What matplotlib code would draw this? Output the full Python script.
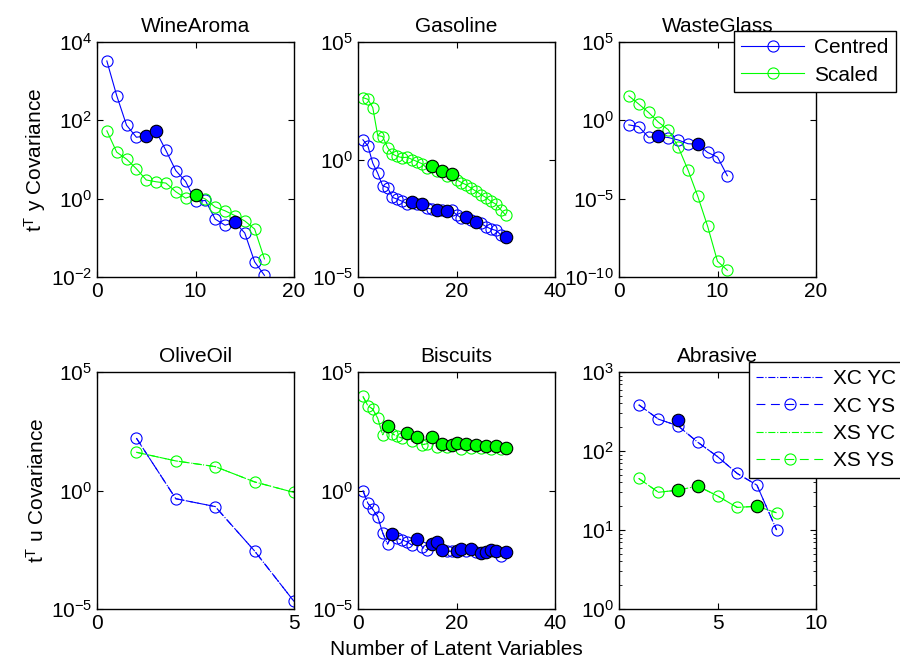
import numpy as np
import matplotlib
matplotlib.use('Agg')
import matplotlib.pyplot as plt
from matplotlib.ticker import LogLocator, NullLocator

plt.rcParams['font.family'] = ['Liberation Sans', 'DejaVu Sans']
plt.rcParams['mathtext.fontset'] = 'custom'
plt.rcParams['mathtext.rm'] = 'Liberation Sans'
plt.rcParams['font.size'] = 15

# ---- data ----
# WineAroma
wine_c = [3280, 429, 75, 37, 40, 52, 17, 5.2, 2.75, 0.85, 0.9, 0.30, 0.21, 0.25, 0.133, 0.0245, 0.011]
wine_s = [54, 15.4, 10.2, 5.8, 3.0, 2.7, 2.5, 1.5, 1.03, 1.26, 0.98, 0.61, 0.49, 0.37, 0.27, 0.168, 0.029]
wine_fill_c = [5, 6, 14]
wine_fill_s = [10]

# Gasoline
gas_c = [6.9, 3.8, 0.70, 0.26, 0.076, 0.064, 0.0244, 0.0205, 0.0165, 0.0132,
         0.0155, 0.0123, 0.0132, 0.0085, 0.0078, 0.0073, 0.0068, 0.0063, 0.0068, 0.0045,
         0.0032, 0.0036, 0.0027, 0.0021, 0.0019, 0.0014, 0.0011, 0.00096, 0.00063, 0.00049]
gas_s = [430, 365, 162, 10.5, 9.5, 3.2, 1.7, 1.35, 1.2, 1.25,
         1.0, 0.82, 0.66, 0.43, 0.54, 0.34, 0.34, 0.19, 0.25, 0.138,
         0.105, 0.083, 0.06, 0.044, 0.032, 0.024, 0.0165, 0.0126, 0.0072, 0.0043]
gas_fill_c = [11, 13, 16, 18, 22, 24, 30]
gas_fill_s = [15, 17, 19]

# WasteGlass
waste_c = [0.51, 0.40, 0.083, 0.093, 0.08, 0.056, 0.032, 0.030, 0.0089, 0.0045, 0.00029]
waste_s = [36, 11, 3.2, 0.76, 0.25, 0.021, 0.00069, 1.4e-5, 1.7e-7, 1e-9, 2.7e-10]
waste_fill_c = [4, 8]
waste_fill_s = []

# OliveOil
olive_c = [162, 0.45, 0.21, 0.0028, 2.1e-5]
olive_s = [41, 17.7, 10.2, 2.3, 0.83]
olive_fill_c = []
olive_fill_s = []

# Biscuits
bisc_c = [1.0, 0.29, 0.16, 0.079, 0.0166, 0.0055, 0.0145, 0.0095, 0.0081, 0.0068,
          0.0049, 0.0089, 0.0042, 0.003, 0.0058, 0.0068, 0.0032, 0.0028, 0.0027, 0.0028,
          0.0034, 0.0028, 0.0034, 0.0026, 0.0022, 0.0026, 0.0030, 0.0028, 0.0018, 0.0026]
bisc_s = [9300, 3800, 2700, 1120, 224, 540, 245, 190, 162, 265,
          117, 178, 85, 94, 178, 68, 94, 68, 80, 100,
          55, 88, 65, 82, 63, 78, 58, 74, 55, 63]
bisc_fill_c = [7, 12, 15, 16, 17, 20, 21, 23, 25, 26, 27, 28, 30]
bisc_fill_s = [6, 10, 12, 15, 17, 19, 20, 22, 24, 26, 28, 30]

# Abrasive
abr_c = [385, 253, 208, 129, 85, 52, 37, 10]
abr_s = [45, 30, 32, 36, 27, 19.3, 20, 16.5]
abr_fill_c = [3]
abr_fill_c_val = [248]
abr_fill_s = [3, 4, 7]

titles = ['WineAroma', 'Gasoline', 'WasteGlass', 'OliveOil', 'Biscuits', 'Abrasive']
xlims = [(0, 20), (0, 40), (0, 20), (0, 5), (0, 40), (0, 10)]
xticks = [[0, 10, 20], [0, 20, 40], [0, 10, 20], [0, 5], [0, 20, 40], [0, 5, 10]]
ylims = [(1e-2, 1e4), (1e-5, 1e5), (1e-10, 1e5), (1e-5, 1e5), (1e-5, 1e5), (1e0, 1e3)]
yticks = [[1e-2, 1e0, 1e2, 1e4], [1e-5, 1e0, 1e5], [1e-10, 1e-5, 1e0, 1e5],
          [1e-5, 1e0, 1e5], [1e-5, 1e0, 1e5], [1e0, 1e1, 1e2, 1e3]]

blue = (0, 0, 1)
green = (0, 1, 0)

fig = plt.figure(figsize=(9, 6.64), dpi=100)
lefts = [97/900, 358/900, 619/900]
w = 197/900
axes = []
for r, (b, h) in enumerate([(1 - 277/664, 235/664), (1 - 609/664, 237/664)]):
    for c in range(3):
        axes.append(fig.add_axes([lefts[c], b, w, h]))

def filled(ax, vals, idx, col, override=None):
    if not idx:
        return
    xs = np.array(idx)
    ys = np.array(override) if override is not None else np.array([vals[i - 1] for i in idx])
    ax.plot(xs, ys, 'o', ms=9, mfc=col, mec='k', mew=0.8, zorder=5)

top_sets = [(wine_c, wine_s, wine_fill_c, wine_fill_s),
            (gas_c, gas_s, gas_fill_c, gas_fill_s),
            (waste_c, waste_s, waste_fill_c, waste_fill_s)]
for ax, (cv, sv, fc, fs) in zip(axes[:3], top_sets):
    xc = np.arange(1, len(cv) + 1)
    xs = np.arange(1, len(sv) + 1)
    ax.semilogy(xc, cv, '-o', color=blue, lw=0.8, ms=8, mfc='none', mew=0.8, label='Centred')
    ax.semilogy(xs, sv, '-o', color=green, lw=0.8, ms=8, mfc='none', mew=0.8, label='Scaled')
    filled(ax, cv, fc, blue)
    filled(ax, sv, fs, green)

bot_sets = [(olive_c, olive_s, olive_fill_c, olive_fill_s, None),
            (bisc_c, bisc_s, bisc_fill_c, bisc_fill_s, None),
            (abr_c, abr_s, abr_fill_c, abr_fill_s, abr_fill_c_val)]
for ax, (cv, sv, fc, fs, fcv) in zip(axes[3:], bot_sets):
    xc = np.arange(1, len(cv) + 1)
    xs = np.arange(1, len(sv) + 1)
    ax.semilogy(xc, cv, '-.', color=blue, lw=0.8, label='XC YC')
    ax.semilogy(xc, cv, '--o', color=blue, lw=0.8, ms=8, mfc='none', mew=0.8,
                dashes=(8, 5), label='XC YS')
    ax.semilogy(xs, sv, '-.', color=green, lw=0.8, label='XS YC')
    ax.semilogy(xs, sv, '--o', color=green, lw=0.8, ms=8, mfc='none', mew=0.8,
                dashes=(8, 5), label='XS YS')
    filled(ax, cv, fc, blue, fcv)
    filled(ax, sv, fs, green)

for i, ax in enumerate(axes):
    ax.set_title(titles[i], fontsize=15, pad=7)
    ax.set_xlim(*xlims[i])
    ax.set_xticks(xticks[i])
    ax.set_ylim(*ylims[i])
    ax.set_yticks(yticks[i])
    if i == 5:
        ax.yaxis.set_minor_locator(LogLocator(base=10, subs=np.arange(2, 10)))
    else:
        ax.yaxis.set_minor_locator(NullLocator())
    ax.tick_params(which='both', direction='in', top=True, right=True, labelsize=15)
    ax.tick_params(which='major', length=4)
    ax.tick_params(which='minor', length=2)
    for s in ax.spines.values():
        s.set_linewidth(1.0)

axes[0].set_ylabel(r'$\mathregular{t^{T}}$ y Covariance', fontsize=15, labelpad=2)
axes[3].set_ylabel(r'$\mathregular{t^{T}}$ u Covariance', fontsize=15, labelpad=2)
axes[4].set_xlabel('Number of Latent Variables', fontsize=15, labelpad=5)

h, l = axes[2].get_legend_handles_labels()
leg1 = axes[2].legend(h[:2], l[:2], loc='upper left', bbox_to_anchor=(734/900, 1 - 31/664),
                      bbox_transform=fig.transFigure, fancybox=False, edgecolor='k',
                      framealpha=1, fontsize=15, handlelength=3.0, borderpad=0.35,
                      labelspacing=0.4, borderaxespad=0, handletextpad=0.5)
leg1.get_frame().set_linewidth(1.0)

h, l = axes[5].get_legend_handles_labels()
leg2 = axes[5].legend(h[:4], l[:4], loc='upper left', bbox_to_anchor=(749/900, 1 - 362/664),
                      bbox_transform=fig.transFigure, fancybox=False, edgecolor='k',
                      framealpha=1, fontsize=15, handlelength=3.2, borderpad=0.35,
                      labelspacing=0.4, borderaxespad=0, handletextpad=0.5)
leg2.get_frame().set_linewidth(1.0)

fig.savefig('out.png', dpi=100)
